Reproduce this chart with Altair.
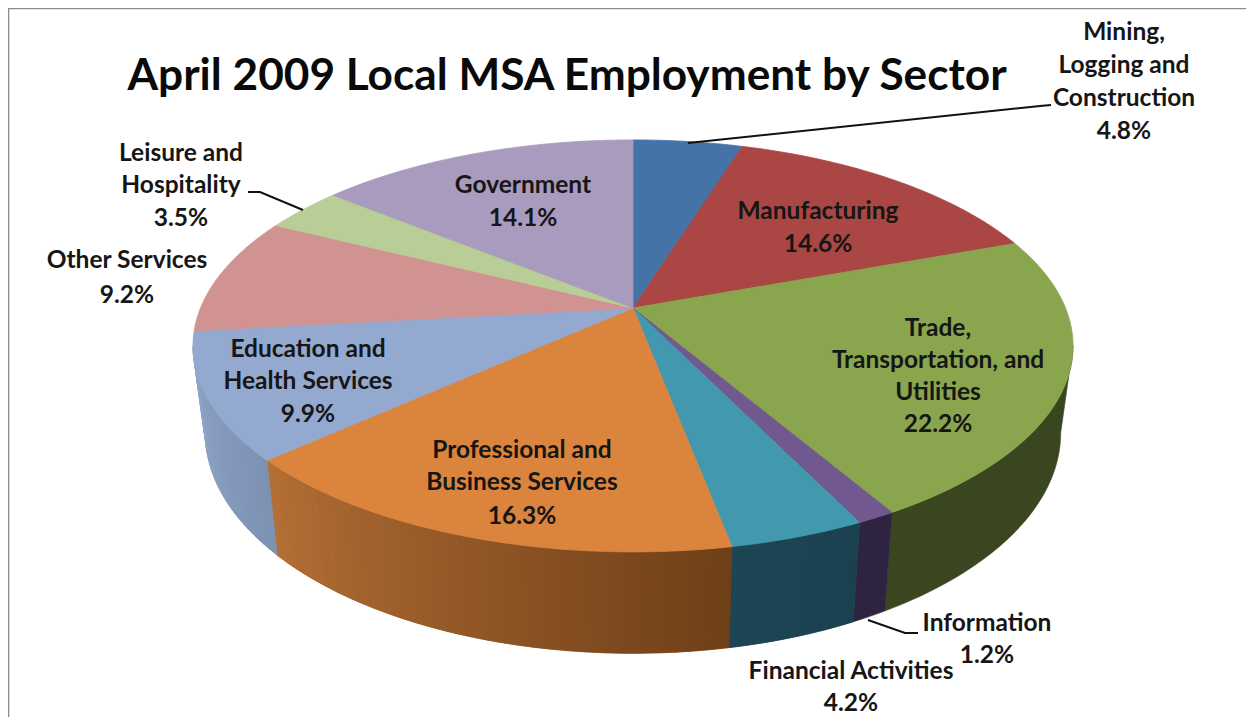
import math
import altair as alt
import pandas as pd

sectors = ["Mining, Logging and Construction", "Manufacturing", "Trade, Transportation, and Utilities",
           "Information", "Financial Activities", "Professional and Business Services",
           "Education and Health Services", "Other Services", "Leisure and Hospitality", "Government"]
shares = [4.8, 14.6, 22.2, 1.2, 4.2, 16.3, 9.9, 9.2, 3.5, 14.1]
top_colors = ["#4572A7", "#AA4643", "#89A54E", "#71588F", "#4198AF",
              "#DB843D", "#93A9CF", "#D19392", "#B9CD96", "#A99BBD"]
# wall shade at the start and at the end of each slice (clockwise)
wall_from = ["#2A4468", "#5E2423", "#3A461F", "#2E2340", "#1B4150",
             "#6E3F18", "#7D92B3", "#8FA5C8", "#8FA5C8", "#8FA5C8"]
wall_to = ["#2A4468", "#5E2423", "#3A461F", "#2E2340", "#1C4655",
           "#B56F35", "#90A6C8", "#8FA5C8", "#8FA5C8", "#8FA5C8"]

title_text = ["April 2009 Local MSA Employment by Sector"]
label_lines = ["Mining,", "Logging and", "Construction", "4.8%",
               "Manufacturing", "14.6%",
               "Trade,", "Transportation, and", "Utilities", "22.2%",
               "Information", "1.2%",
               "Financial Activities", "4.2%",
               "Professional and", "Business Services", "16.3%",
               "Education and", "Health Services", "9.9%",
               "Other Services", "9.2%",
               "Leisure and", "Hospitality", "3.5%",
               "Government", "14.1%"]
label_x = [1124] * 4 + [818] * 2 + [938] * 4 + [987] * 2 + [851] * 2 + [522] * 3 + [308] * 3 + [127] * 2 + [181] * 3 + [523] * 2
label_y = [33, 66, 99, 132, 212, 245, 329, 361, 393, 425, 624, 656, 672, 704,
           451, 483, 517, 350, 382, 415, 261, 296, 154, 186, 219, 186, 219]

leader_id = ["m", "m", "m", "l", "l", "l", "i", "i", "i"]
leader_x = [688, 1040, 1051, 303, 260, 248, 868, 905, 918]
leader_y = [143, 106, 105, 210, 192, 192, 620, 633, 633]

# perspective view of the pie disc
CX, CY, A, B, K = 633, 308, 432.5, 199, 0.184
SIDE_FROM, SIDE_TO = 100.6, 259.4


def top_point(deg):
    t = math.radians(deg)
    u, v = math.sin(t), -math.cos(t)
    w = 1 - K * v
    return CX + A * u / w, CY + B * v / w


def bottom_point(deg):
    x, y = top_point(deg)
    return CX + 0.972 * (x - CX), y + 95 + 0.07 * (y - 461)


def mix(c1, c2, f):
    a = [int(c1[i:i + 2], 16) for i in (1, 3, 5)]
    b = [int(c2[i:i + 2], 16) for i in (1, 3, 5)]
    return "#%02x%02x%02x" % tuple(round(p + (q - p) * f) for p, q in zip(a, b))


top_rows, base_rows, strip_rows = [], [], []
start = 0.0
for s, share in enumerate(shares):
    end = start + share * 3.6
    n = max(2, int((end - start) / 1.0))
    pts = [(CX, CY)] + [top_point(start + (end - start) * j / n) for j in range(n + 1)]
    for i, (x, y) in enumerate(pts):
        top_rows.append(dict(id=s, i=i, x=x, y=y, c=top_colors[s]))
    lo, hi = max(start, SIDE_FROM), min(end, SIDE_TO)
    if hi > lo:
        m = max(1, int((hi - lo) / 1.0))
        angles = [lo + (hi - lo) * j / m for j in range(m + 1)]
        outline = [top_point(a) for a in angles] + [bottom_point(a) for a in reversed(angles)]
        for i, (x, y) in enumerate(outline):
            base_rows.append(dict(id=s, i=i, x=x, y=y, c=mix(wall_from[s], wall_to[s], 0.5)))
        if wall_from[s] != wall_to[s]:
            for j in range(m):
                col = mix(wall_from[s], wall_to[s], (j + 0.5) / m)
                quad = [top_point(angles[j]), top_point(angles[j + 1]),
                        bottom_point(angles[j + 1]), bottom_point(angles[j])]
                for i, (x, y) in enumerate(quad):
                    strip_rows.append(dict(id=f"{s}-{j}", i=i, x=x, y=y, c=col))
    start = end

X = alt.X("x:Q", axis=None, scale=alt.Scale(domain=[8, 1246], zero=False, nice=False))
Y = alt.Y("y:Q", axis=None, scale=alt.Scale(domain=[717, 8], zero=False, nice=False))


def polys(rows, sw):
    return alt.Chart(pd.DataFrame(rows)).mark_line(
        filled=True, interpolate="linear-closed", strokeWidth=sw
    ).encode(x=X, y=Y, detail="id:N", order="i:Q",
             fill=alt.Fill("c:N", scale=None), stroke=alt.Stroke("c:N", scale=None))


bases = polys(base_rows, 0.6)
strips = polys(strip_rows, 0.6)
tops = polys(top_rows, 0.8)

leaders = alt.Chart(pd.DataFrame(dict(id=leader_id, x=leader_x, y=leader_y))).mark_line(
    color="#111111", strokeWidth=2
).encode(x=X, y=Y, detail="id:N", order=alt.Order("x:Q"))

labels = alt.Chart(pd.DataFrame(dict(t=label_lines, x=label_x, y=label_y))).mark_text(
    font="Lato", fontSize=24.5, fontWeight="bold", color="#161616", align="center", baseline="middle"
).encode(x=X, y=Y, text="t:N")

title = alt.Chart(pd.DataFrame(dict(t=title_text, x=[567], y=[77]))).mark_text(
    font="Lato", fontSize=44.2, fontWeight="bold", color="#0a0a0a", align="center", baseline="middle"
).encode(x=X, y=Y, text="t:N")

frame = alt.Chart(pd.DataFrame(dict(id=["f"] * 3, i=[0, 1, 2], x=[8.5, 8.5, 1246], y=[717, 8.5, 8.5]))).mark_line(
    color="#8c8c8c", strokeWidth=1.6
).encode(x=X, y=Y, detail="id:N", order="i:Q")

chart = alt.layer(frame, bases, strips, tops, leaders, labels, title).properties(
    width=1238, height=709, padding=0, background="#ffffff",
    autosize=alt.AutoSizeParams(type="none")
).configure_view(stroke=None)

chart.save("out.html", embed_options={"renderer": "svg", "actions": False})
